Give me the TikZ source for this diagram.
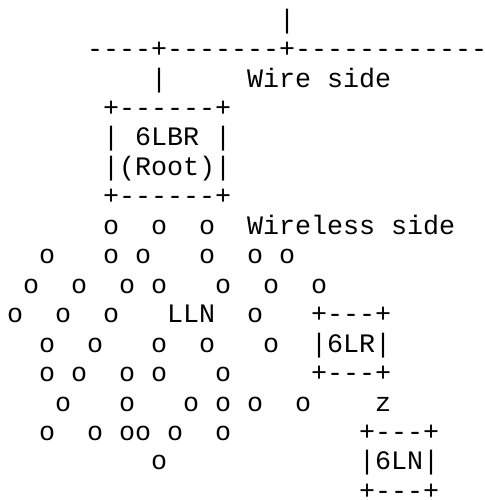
\documentclass[tikz,border=0pt]{standalone}
\usepackage{fontspec}
\setmonofont{Liberation Mono}
\tikzset{
  asciirow/.style={anchor=base west, inner sep=0pt, outer sep=0pt, text=black,
    font=\ttfamily\fontsize{26.67}{29.46}\selectfont\frenchspacing}
}
\begin{document}
\begin{tikzpicture}[x=1pt,y=1pt]
\useasboundingbox[fill=white] (0,0) rectangle (484,500);
\node[asciirow] (r1)  at (7,471.90) {~~~~~~~~~~~~~~~~~|};
\node[asciirow] (r2)  at (7,442.44) {~~~~~----+-------+------------};
\node[asciirow] (r3)  at (7,412.98) {~~~~~~~~~|~~~~~Wire~side};
\node[asciirow] (r4)  at (7,383.52) {~~~~~~+------+};
\node[asciirow] (r5)  at (7,354.06) {~~~~~~|~6LBR~|};
\node[asciirow] (r6)  at (7,324.60) {~~~~~~|(Root)|};
\node[asciirow] (r7)  at (7,295.14) {~~~~~~+------+};
\node[asciirow] (r8)  at (7,265.68) {~~~~~~o~~o~~o~~Wireless~side};
\node[asciirow] (r9)  at (7,236.22) {~~o~~~o~o~~~o~~o~o};
\node[asciirow] (r10) at (7,206.76) {~o~~o~~o~o~~~o~~o~~o};
\node[asciirow] (r11) at (7,177.30) {o~~o~~o~~~LLN~~o~~~+---+};
\node[asciirow] (r12) at (7,147.84) {~~o~~o~~~o~~o~~~o~~|6LR|};
\node[asciirow] (r13) at (7,118.38) {~~o~o~~o~o~~~o~~~~~+---+};
\node[asciirow] (r14) at (7,88.92)  {~~~o~~~o~~~o~o~o~~o~~~~z};
\node[asciirow] (r15) at (7,59.46)  {~~o~~o~oo~o~~o~~~~~~~~+---+};
\node[asciirow] (r16) at (7,30.00)  {~~~~~~~~~o~~~~~~~~~~~~|6LN|};
\node[asciirow] (r17) at (7,0.54)   {~~~~~~~~~~~~~~~~~~~~~~+---+};
\end{tikzpicture}
\end{document}
